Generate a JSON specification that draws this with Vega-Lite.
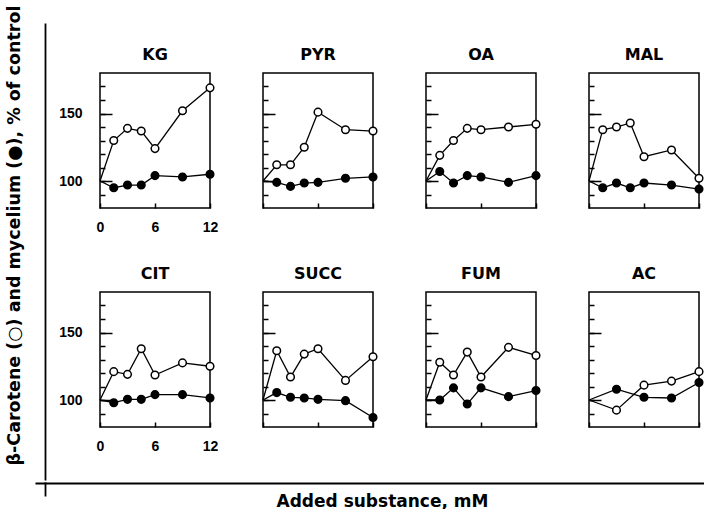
{
  "$schema": "https://vega.github.io/schema/vega-lite/v6.json",
  "padding": {"left": 5, "top": 5, "right": 0, "bottom": 0},
  "background": "white",
  "datasets": {
    "d": [
      {"p": "KG", "s": "mycelium", "x": 0, "y": 100}, {"p": "KG", "s": "mycelium", "x": 1.5, "y": 95}, {"p": "KG", "s": "mycelium", "x": 3, "y": 97}, {"p": "KG", "s": "mycelium", "x": 4.5, "y": 97}, {"p": "KG", "s": "mycelium", "x": 6, "y": 104}, {"p": "KG", "s": "mycelium", "x": 9, "y": 103}, {"p": "KG", "s": "mycelium", "x": 12, "y": 105},
      {"p": "KG", "s": "carotene", "x": 0, "y": 100}, {"p": "KG", "s": "carotene", "x": 1.5, "y": 130}, {"p": "KG", "s": "carotene", "x": 3, "y": 139}, {"p": "KG", "s": "carotene", "x": 4.5, "y": 137}, {"p": "KG", "s": "carotene", "x": 6, "y": 124}, {"p": "KG", "s": "carotene", "x": 9, "y": 152}, {"p": "KG", "s": "carotene", "x": 12, "y": 169},
      {"p": "PYR", "s": "mycelium", "x": 0, "y": 100}, {"p": "PYR", "s": "mycelium", "x": 1.5, "y": 99}, {"p": "PYR", "s": "mycelium", "x": 3, "y": 96}, {"p": "PYR", "s": "mycelium", "x": 4.5, "y": 98.5}, {"p": "PYR", "s": "mycelium", "x": 6, "y": 99}, {"p": "PYR", "s": "mycelium", "x": 9, "y": 102}, {"p": "PYR", "s": "mycelium", "x": 12, "y": 103},
      {"p": "PYR", "s": "carotene", "x": 0, "y": 100}, {"p": "PYR", "s": "carotene", "x": 1.5, "y": 112}, {"p": "PYR", "s": "carotene", "x": 3, "y": 112}, {"p": "PYR", "s": "carotene", "x": 4.5, "y": 125}, {"p": "PYR", "s": "carotene", "x": 6, "y": 151}, {"p": "PYR", "s": "carotene", "x": 9, "y": 138}, {"p": "PYR", "s": "carotene", "x": 12, "y": 137},
      {"p": "OA", "s": "mycelium", "x": 0, "y": 100}, {"p": "OA", "s": "mycelium", "x": 1.5, "y": 107}, {"p": "OA", "s": "mycelium", "x": 3, "y": 98.5}, {"p": "OA", "s": "mycelium", "x": 4.5, "y": 104}, {"p": "OA", "s": "mycelium", "x": 6, "y": 103}, {"p": "OA", "s": "mycelium", "x": 9, "y": 99}, {"p": "OA", "s": "mycelium", "x": 12, "y": 104},
      {"p": "OA", "s": "carotene", "x": 0, "y": 100}, {"p": "OA", "s": "carotene", "x": 1.5, "y": 119}, {"p": "OA", "s": "carotene", "x": 3, "y": 130}, {"p": "OA", "s": "carotene", "x": 4.5, "y": 139}, {"p": "OA", "s": "carotene", "x": 6, "y": 138}, {"p": "OA", "s": "carotene", "x": 9, "y": 140}, {"p": "OA", "s": "carotene", "x": 12, "y": 142},
      {"p": "MAL", "s": "mycelium", "x": 0, "y": 100}, {"p": "MAL", "s": "mycelium", "x": 1.5, "y": 95}, {"p": "MAL", "s": "mycelium", "x": 3, "y": 98.5}, {"p": "MAL", "s": "mycelium", "x": 4.5, "y": 95}, {"p": "MAL", "s": "mycelium", "x": 6, "y": 98.5}, {"p": "MAL", "s": "mycelium", "x": 9, "y": 97}, {"p": "MAL", "s": "mycelium", "x": 12, "y": 94},
      {"p": "MAL", "s": "carotene", "x": 0, "y": 100}, {"p": "MAL", "s": "carotene", "x": 1.5, "y": 138}, {"p": "MAL", "s": "carotene", "x": 3, "y": 140}, {"p": "MAL", "s": "carotene", "x": 4.5, "y": 143}, {"p": "MAL", "s": "carotene", "x": 6, "y": 118}, {"p": "MAL", "s": "carotene", "x": 9, "y": 123}, {"p": "MAL", "s": "carotene", "x": 12, "y": 102},
      {"p": "CIT", "s": "mycelium", "x": 0, "y": 100}, {"p": "CIT", "s": "mycelium", "x": 1.5, "y": 98}, {"p": "CIT", "s": "mycelium", "x": 3, "y": 100.5}, {"p": "CIT", "s": "mycelium", "x": 4.5, "y": 100.5}, {"p": "CIT", "s": "mycelium", "x": 6, "y": 104}, {"p": "CIT", "s": "mycelium", "x": 9, "y": 104}, {"p": "CIT", "s": "mycelium", "x": 12, "y": 101.5},
      {"p": "CIT", "s": "carotene", "x": 0, "y": 100}, {"p": "CIT", "s": "carotene", "x": 1.5, "y": 121}, {"p": "CIT", "s": "carotene", "x": 3, "y": 119}, {"p": "CIT", "s": "carotene", "x": 4.5, "y": 138}, {"p": "CIT", "s": "carotene", "x": 6, "y": 118.5}, {"p": "CIT", "s": "carotene", "x": 9, "y": 127.5}, {"p": "CIT", "s": "carotene", "x": 12, "y": 125},
      {"p": "SUCC", "s": "mycelium", "x": 0, "y": 100}, {"p": "SUCC", "s": "mycelium", "x": 1.5, "y": 105.5}, {"p": "SUCC", "s": "mycelium", "x": 3, "y": 102}, {"p": "SUCC", "s": "mycelium", "x": 4.5, "y": 101.5}, {"p": "SUCC", "s": "mycelium", "x": 6, "y": 100.5}, {"p": "SUCC", "s": "mycelium", "x": 9, "y": 99.5}, {"p": "SUCC", "s": "mycelium", "x": 12, "y": 87},
      {"p": "SUCC", "s": "carotene", "x": 0, "y": 100}, {"p": "SUCC", "s": "carotene", "x": 1.5, "y": 136.5}, {"p": "SUCC", "s": "carotene", "x": 3, "y": 117}, {"p": "SUCC", "s": "carotene", "x": 4.5, "y": 134}, {"p": "SUCC", "s": "carotene", "x": 6, "y": 138}, {"p": "SUCC", "s": "carotene", "x": 9, "y": 114.5}, {"p": "SUCC", "s": "carotene", "x": 12, "y": 132},
      {"p": "FUM", "s": "mycelium", "x": 0, "y": 100}, {"p": "FUM", "s": "mycelium", "x": 1.5, "y": 100}, {"p": "FUM", "s": "mycelium", "x": 3, "y": 109}, {"p": "FUM", "s": "mycelium", "x": 4.5, "y": 97}, {"p": "FUM", "s": "mycelium", "x": 6, "y": 109}, {"p": "FUM", "s": "mycelium", "x": 9, "y": 102.5}, {"p": "FUM", "s": "mycelium", "x": 12, "y": 107},
      {"p": "FUM", "s": "carotene", "x": 0, "y": 100}, {"p": "FUM", "s": "carotene", "x": 1.5, "y": 128}, {"p": "FUM", "s": "carotene", "x": 3, "y": 118.5}, {"p": "FUM", "s": "carotene", "x": 4.5, "y": 135.5}, {"p": "FUM", "s": "carotene", "x": 6, "y": 117}, {"p": "FUM", "s": "carotene", "x": 9, "y": 139}, {"p": "FUM", "s": "carotene", "x": 12, "y": 133},
      {"p": "AC", "s": "mycelium", "x": 0, "y": 100}, {"p": "AC", "s": "mycelium", "x": 3, "y": 108}, {"p": "AC", "s": "mycelium", "x": 6, "y": 102}, {"p": "AC", "s": "mycelium", "x": 9, "y": 101.5}, {"p": "AC", "s": "mycelium", "x": 12, "y": 113},
      {"p": "AC", "s": "carotene", "x": 0, "y": 100}, {"p": "AC", "s": "carotene", "x": 3, "y": 92.5}, {"p": "AC", "s": "carotene", "x": 6, "y": 111}, {"p": "AC", "s": "carotene", "x": 9, "y": 114}, {"p": "AC", "s": "carotene", "x": 12, "y": 121}
    ]
  },
  "spacing": 0,
  "vconcat": [
    {
      "spacing": 11,
      "hconcat": [
        {
          "width": 1, "height": 457,
          "view": {"stroke": null},
          "data": {"values": [{"v": 0}, {"v": 1}]},
          "mark": {"type": "point", "opacity": 0, "size": 1},
          "encoding": {"y": {"field": "v", "type": "quantitative", "scale": {"domain": [0, 1], "range": [457, 0]}, "axis": {"domain": true, "domainColor": "black", "domainWidth": 1.8, "ticks": false, "labels": false, "grid": false, "title": "β-Carotene (○) and mycelium (●), % of control", "titleFont": "DejaVu Sans", "titleFontSize": 17.5, "titlePadding": 22, "titleY": 212}}}
        },
        {
          "spacing": 22,
          "vconcat": [
            {"width": 110, "height": 1, "view": {"stroke": null}, "data": {"values": [{"v": 0}]}, "mark": {"type": "point", "opacity": 0, "size": 1}, "encoding": {}},
            {
              "spacing": 30,
              "vconcat": [
                {
                  "bounds": "flush",
                  "spacing": 53,
                  "data": {"name": "d"},
                  "hconcat": [
                    {"title": "KG", "width": 110, "height": 135, "transform": [{"filter": "datum.p === 'KG'"}],
                     "resolve": {"scale": {"y": "independent"}, "axis": {"y": "independent"}},
                     "layer": [
                       {"mark": {"type": "line", "color": "black", "strokeWidth": 1.3}, "encoding": {"x": {"field": "x", "type": "quantitative", "scale": {"domain": [0, 12]}, "axis": {"values": [0, 3, 6, 9, 12], "tickSize": -5, "labelExpr": "datum.value % 6 === 0 ? datum.label : ''", "labelPadding": 17}}, "y": {"field": "y", "type": "quantitative", "scale": {"domain": [80, 180]}, "axis": {"orient": "left", "values": [100, 150], "tickSize": -12, "labelPadding": 30}}, "detail": {"field": "s"}}},
                       {"transform": [{"filter": "datum.x > 0"}], "mark": {"type": "point", "shape": "circle", "filled": true, "size": 58, "stroke": "black", "strokeWidth": 1.5, "opacity": 1}, "encoding": {"x": {"field": "x", "type": "quantitative"}, "y": {"field": "y", "type": "quantitative", "scale": {"domain": [80, 180]}, "axis": {"orient": "left", "values": [90, 100, 110, 120, 130, 140, 150, 160, 170], "tickSize": -5, "labels": false}}, "fill": {"field": "s", "type": "nominal", "scale": {"domain": ["carotene", "mycelium"], "range": ["white", "black"]}, "legend": null}}}
                     ]},
                    {"title": "PYR", "width": 110, "height": 135, "transform": [{"filter": "datum.p === 'PYR'"}],
                     "resolve": {"scale": {"y": "independent"}, "axis": {"y": "independent"}},
                     "layer": [
                       {"mark": {"type": "line", "color": "black", "strokeWidth": 1.3}, "encoding": {"x": {"field": "x", "type": "quantitative", "scale": {"domain": [0, 12]}, "axis": {"values": [0, 3, 6, 9, 12], "tickSize": -5, "labels": false}}, "y": {"field": "y", "type": "quantitative", "scale": {"domain": [80, 180]}, "axis": {"orient": "left", "values": [100, 150], "tickSize": -12, "labels": false}}, "detail": {"field": "s"}}},
                       {"transform": [{"filter": "datum.x > 0"}], "mark": {"type": "point", "shape": "circle", "filled": true, "size": 58, "stroke": "black", "strokeWidth": 1.5, "opacity": 1}, "encoding": {"x": {"field": "x", "type": "quantitative"}, "y": {"field": "y", "type": "quantitative", "scale": {"domain": [80, 180]}, "axis": {"orient": "left", "values": [90, 100, 110, 120, 130, 140, 150, 160, 170], "tickSize": -5, "labels": false}}, "fill": {"field": "s", "type": "nominal", "scale": {"domain": ["carotene", "mycelium"], "range": ["white", "black"]}, "legend": null}}}
                     ]},
                    {"title": "OA", "width": 110, "height": 135, "transform": [{"filter": "datum.p === 'OA'"}],
                     "resolve": {"scale": {"y": "independent"}, "axis": {"y": "independent"}},
                     "layer": [
                       {"mark": {"type": "line", "color": "black", "strokeWidth": 1.3}, "encoding": {"x": {"field": "x", "type": "quantitative", "scale": {"domain": [0, 12]}, "axis": {"values": [0, 3, 6, 9, 12], "tickSize": -5, "labels": false}}, "y": {"field": "y", "type": "quantitative", "scale": {"domain": [80, 180]}, "axis": {"orient": "left", "values": [100, 150], "tickSize": -12, "labels": false}}, "detail": {"field": "s"}}},
                       {"transform": [{"filter": "datum.x > 0"}], "mark": {"type": "point", "shape": "circle", "filled": true, "size": 58, "stroke": "black", "strokeWidth": 1.5, "opacity": 1}, "encoding": {"x": {"field": "x", "type": "quantitative"}, "y": {"field": "y", "type": "quantitative", "scale": {"domain": [80, 180]}, "axis": {"orient": "left", "values": [90, 100, 110, 120, 130, 140, 150, 160, 170], "tickSize": -5, "labels": false}}, "fill": {"field": "s", "type": "nominal", "scale": {"domain": ["carotene", "mycelium"], "range": ["white", "black"]}, "legend": null}}}
                     ]},
                    {"title": "MAL", "width": 110, "height": 135, "transform": [{"filter": "datum.p === 'MAL'"}],
                     "resolve": {"scale": {"y": "independent"}, "axis": {"y": "independent"}},
                     "layer": [
                       {"mark": {"type": "line", "color": "black", "strokeWidth": 1.3}, "encoding": {"x": {"field": "x", "type": "quantitative", "scale": {"domain": [0, 12]}, "axis": {"values": [0, 3, 6, 9, 12], "tickSize": -5, "labels": false}}, "y": {"field": "y", "type": "quantitative", "scale": {"domain": [80, 180]}, "axis": {"orient": "left", "values": [100, 150], "tickSize": -12, "labels": false}}, "detail": {"field": "s"}}},
                       {"transform": [{"filter": "datum.x > 0"}], "mark": {"type": "point", "shape": "circle", "filled": true, "size": 58, "stroke": "black", "strokeWidth": 1.5, "opacity": 1}, "encoding": {"x": {"field": "x", "type": "quantitative"}, "y": {"field": "y", "type": "quantitative", "scale": {"domain": [80, 180]}, "axis": {"orient": "left", "values": [90, 100, 110, 120, 130, 140, 150, 160, 170], "tickSize": -5, "labels": false}}, "fill": {"field": "s", "type": "nominal", "scale": {"domain": ["carotene", "mycelium"], "range": ["white", "black"]}, "legend": null}}}
                     ]}
                  ]
                },
                {
                  "bounds": "flush",
                  "spacing": 53,
                  "data": {"name": "d"},
                  "hconcat": [
                    {"title": "CIT", "width": 110, "height": 135, "transform": [{"filter": "datum.p === 'CIT'"}],
                     "resolve": {"scale": {"y": "independent"}, "axis": {"y": "independent"}},
                     "layer": [
                       {"mark": {"type": "line", "color": "black", "strokeWidth": 1.3}, "encoding": {"x": {"field": "x", "type": "quantitative", "scale": {"domain": [0, 12]}, "axis": {"values": [0, 3, 6, 9, 12], "tickSize": -5, "labelExpr": "datum.value % 6 === 0 ? datum.label : ''", "labelPadding": 17}}, "y": {"field": "y", "type": "quantitative", "scale": {"domain": [80, 180]}, "axis": {"orient": "left", "values": [100, 150], "tickSize": -12, "labelPadding": 30}}, "detail": {"field": "s"}}},
                       {"transform": [{"filter": "datum.x > 0"}], "mark": {"type": "point", "shape": "circle", "filled": true, "size": 58, "stroke": "black", "strokeWidth": 1.5, "opacity": 1}, "encoding": {"x": {"field": "x", "type": "quantitative"}, "y": {"field": "y", "type": "quantitative", "scale": {"domain": [80, 180]}, "axis": {"orient": "left", "values": [90, 100, 110, 120, 130, 140, 150, 160, 170], "tickSize": -5, "labels": false}}, "fill": {"field": "s", "type": "nominal", "scale": {"domain": ["carotene", "mycelium"], "range": ["white", "black"]}, "legend": null}}}
                     ]},
                    {"title": "SUCC", "width": 110, "height": 135, "transform": [{"filter": "datum.p === 'SUCC'"}],
                     "resolve": {"scale": {"y": "independent"}, "axis": {"y": "independent"}},
                     "layer": [
                       {"mark": {"type": "line", "color": "black", "strokeWidth": 1.3}, "encoding": {"x": {"field": "x", "type": "quantitative", "scale": {"domain": [0, 12]}, "axis": {"values": [0, 3, 6, 9, 12], "tickSize": -5, "labels": false}}, "y": {"field": "y", "type": "quantitative", "scale": {"domain": [80, 180]}, "axis": {"orient": "left", "values": [100, 150], "tickSize": -12, "labels": false}}, "detail": {"field": "s"}}},
                       {"transform": [{"filter": "datum.x > 0"}], "mark": {"type": "point", "shape": "circle", "filled": true, "size": 58, "stroke": "black", "strokeWidth": 1.5, "opacity": 1}, "encoding": {"x": {"field": "x", "type": "quantitative"}, "y": {"field": "y", "type": "quantitative", "scale": {"domain": [80, 180]}, "axis": {"orient": "left", "values": [90, 100, 110, 120, 130, 140, 150, 160, 170], "tickSize": -5, "labels": false}}, "fill": {"field": "s", "type": "nominal", "scale": {"domain": ["carotene", "mycelium"], "range": ["white", "black"]}, "legend": null}}}
                     ]},
                    {"title": "FUM", "width": 110, "height": 135, "transform": [{"filter": "datum.p === 'FUM'"}],
                     "resolve": {"scale": {"y": "independent"}, "axis": {"y": "independent"}},
                     "layer": [
                       {"mark": {"type": "line", "color": "black", "strokeWidth": 1.3}, "encoding": {"x": {"field": "x", "type": "quantitative", "scale": {"domain": [0, 12]}, "axis": {"values": [0, 3, 6, 9, 12], "tickSize": -5, "labels": false}}, "y": {"field": "y", "type": "quantitative", "scale": {"domain": [80, 180]}, "axis": {"orient": "left", "values": [100, 150], "tickSize": -12, "labels": false}}, "detail": {"field": "s"}}},
                       {"transform": [{"filter": "datum.x > 0"}], "mark": {"type": "point", "shape": "circle", "filled": true, "size": 58, "stroke": "black", "strokeWidth": 1.5, "opacity": 1}, "encoding": {"x": {"field": "x", "type": "quantitative"}, "y": {"field": "y", "type": "quantitative", "scale": {"domain": [80, 180]}, "axis": {"orient": "left", "values": [90, 100, 110, 120, 130, 140, 150, 160, 170], "tickSize": -5, "labels": false}}, "fill": {"field": "s", "type": "nominal", "scale": {"domain": ["carotene", "mycelium"], "range": ["white", "black"]}, "legend": null}}}
                     ]},
                    {"title": "AC", "width": 110, "height": 135, "transform": [{"filter": "datum.p === 'AC'"}],
                     "resolve": {"scale": {"y": "independent"}, "axis": {"y": "independent"}},
                     "layer": [
                       {"mark": {"type": "line", "color": "black", "strokeWidth": 1.3}, "encoding": {"x": {"field": "x", "type": "quantitative", "scale": {"domain": [0, 12]}, "axis": {"values": [0, 3, 6, 9, 12], "tickSize": -5, "labels": false}}, "y": {"field": "y", "type": "quantitative", "scale": {"domain": [80, 180]}, "axis": {"orient": "left", "values": [100, 150], "tickSize": -12, "labels": false}}, "detail": {"field": "s"}}},
                       {"transform": [{"filter": "datum.x > 0"}], "mark": {"type": "point", "shape": "circle", "filled": true, "size": 58, "stroke": "black", "strokeWidth": 1.5, "opacity": 1}, "encoding": {"x": {"field": "x", "type": "quantitative"}, "y": {"field": "y", "type": "quantitative", "scale": {"domain": [80, 180]}, "axis": {"orient": "left", "values": [90, 100, 110, 120, 130, 140, 150, 160, 170], "tickSize": -5, "labels": false}}, "fill": {"field": "s", "type": "nominal", "scale": {"domain": ["carotene", "mycelium"], "range": ["white", "black"]}, "legend": null}}}
                     ]}
                  ]
                }
              ]
            }
          ]
        }
      ]
    },
    {
      "width": 659, "height": 1,
      "view": {"stroke": null},
      "data": {"values": [{"v": 0}, {"v": 1}]},
      "mark": {"type": "point", "opacity": 0, "size": 1},
      "encoding": {
        "x": {"field": "v", "type": "quantitative", "scale": {"domain": [0, 1], "range": [-10, 659]}, "axis": {"domain": true, "domainColor": "black", "domainWidth": 1.8, "ticks": false, "labels": false, "grid": false, "title": "Added substance, mM", "titleFont": "DejaVu Sans", "titleFontSize": 17, "titlePadding": 10, "titleX": 337}},
        "y": {"field": "v", "type": "quantitative", "scale": {"domain": [0, 1], "range": [14, 0]}, "axis": {"domain": true, "domainColor": "black", "domainWidth": 1.8, "ticks": false, "labels": false, "grid": false, "title": null}}
      }
    }
  ],
  "config": {
    "font": "Liberation Sans",
    "view": {"stroke": "black", "strokeWidth": 1.5},
    "title": {"font": "DejaVu Sans", "fontSize": 16, "fontWeight": "bold", "color": "black", "offset": 10, "anchor": "middle"},
    "axis": {"domain": false, "grid": false, "title": null, "labelFont": "Liberation Sans", "labelFontSize": 14, "labelFontWeight": "bold", "labelColor": "black", "labelFlush": false, "labelOverlap": false, "labelBound": false, "tickColor": "black", "tickWidth": 1.5, "titleFont": "Liberation Sans", "titleFontWeight": "bold", "titleColor": "black"}
  }
}
